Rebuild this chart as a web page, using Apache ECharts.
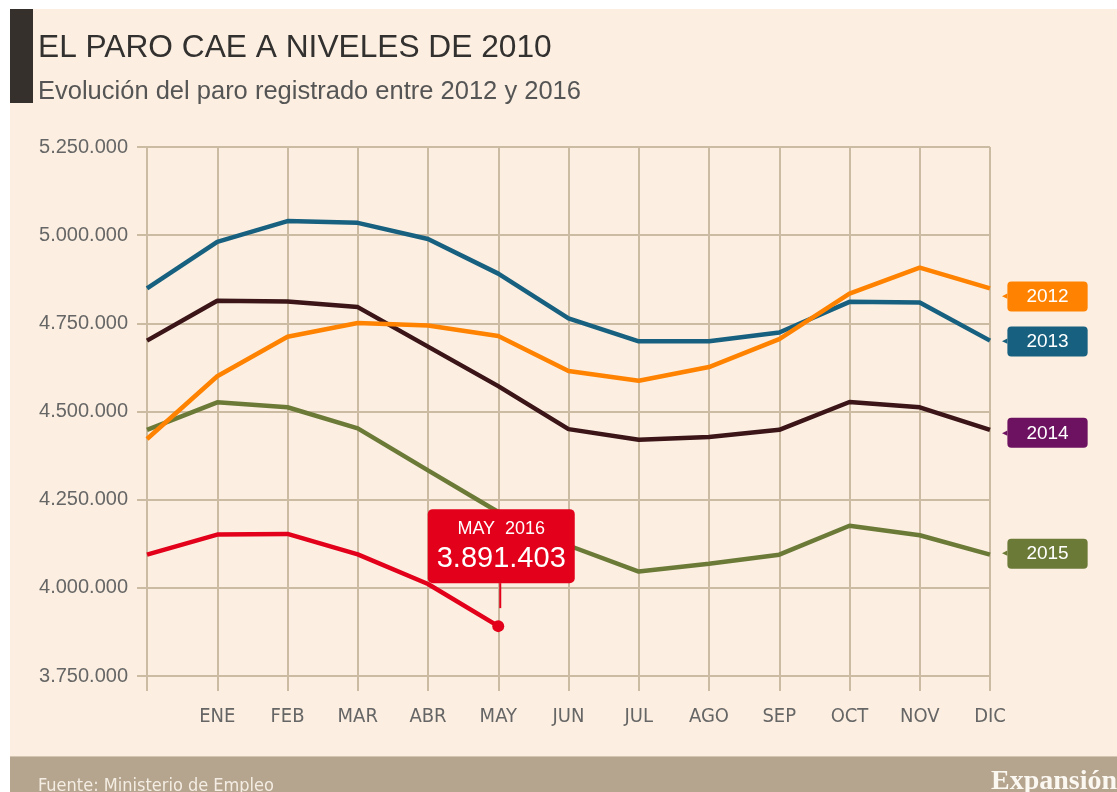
<!DOCTYPE html>
<html>
<head>
<meta charset="utf-8">
<script src="https://cdn.jsdelivr.net/npm/echarts@6/dist/echarts.min.js"></script>
<style>
  html, body { margin: 0; padding: 0; background: #fff; }
  #chart { width: 1117px; height: 792px; }
</style>
</head>
<body>
<div id="chart"></div>
<script>
// 数据：每年 12 月（上一年）到 12 月的登记失业人数
const months = ['', 'ENE', 'FEB', 'MAR', 'ABR', 'MAY', 'JUN', 'JUL', 'AGO', 'SEP', 'OCT', 'NOV', 'DIC'];
const paro2012 = [4422000, 4600000, 4712000, 4751000, 4744000, 4714000, 4615000, 4587000, 4626000, 4705000, 4834000, 4908000, 4849000];
const paro2013 = [4849000, 4981000, 5040000, 5035000, 4989000, 4891000, 4764000, 4699000, 4699000, 4724000, 4811000, 4809000, 4701000];
const paro2014 = [4701000, 4814000, 4812000, 4796000, 4684000, 4572000, 4450000, 4420000, 4428000, 4448000, 4527000, 4512000, 4448000];
const paro2015 = [4448000, 4526000, 4512000, 4452000, 4333000, 4215000, 4120000, 4046000, 4068000, 4094000, 4176000, 4149000, 4094000];
const paro2016 = [4094000, 4151000, 4153000, 4095000, 4011000, 3891403];
const yTicks = { min: 3750000, max: 5250000, step: 250000 };

const narrow = "'Liberation Sans Narrow', 'DejaVu Sans Condensed', 'Liberation Sans', sans-serif";
const sans = "'Liberation Sans', Arial, sans-serif";
const gridColor = '#cbbba3';

// 千位分隔用点号
function formatNum(v) {
    return String(Math.round(v)).replace(/\B(?=(\d{3})+(?!\d))/g, '.');
}

function yearLine(name, data, color, tagColor, dy) {
    return {
        name: name,
        type: 'line',
        data: data,
        symbol: 'none',
        lineStyle: { color: color, width: 4.5 },
        itemStyle: { color: color },
        endLabel: {
            show: true,
            distance: 12,
            offset: [0, dy],
            formatter: '{n|◀}{t|' + name + '}',
            rich: {
                n: { color: tagColor, fontSize: 7, fontFamily: 'DejaVu Sans' },
                t: {
                    backgroundColor: tagColor, color: '#fff', borderRadius: 4,
                    fontFamily: sans, fontSize: 19, padding: [6, 19, 5, 19]
                }
            }
        }
    };
}

const chart = echarts.init(document.getElementById('chart'));

const option = {
    backgroundColor: '#fcefe1',
    animation: false,
    grid: { left: 147, right: 127, top: 147, bottom: 116 },
    xAxis: {
        type: 'category',
        data: months,
        boundaryGap: false,
        axisLine: { show: true, lineStyle: { color: gridColor, width: 2 } },
        axisTick: { show: true, length: 15, lineStyle: { color: gridColor, width: 2 } },
        splitLine: { show: true, lineStyle: { color: gridColor, width: 2 } },
        axisLabel: { color: '#666', fontFamily: narrow, fontSize: 20, margin: 31 }
    },
    yAxis: {
        type: 'value',
        min: yTicks.min,
        max: yTicks.max,
        interval: yTicks.step,
        axisLine: { show: false },
        axisTick: { show: true, length: 10, lineStyle: { color: gridColor, width: 2 } },
        splitLine: { show: true, lineStyle: { color: gridColor, width: 2 } },
        axisLabel: { color: '#666', fontFamily: sans, fontSize: 20, margin: 19, formatter: formatNum }
    },
    series: [
        yearLine('2015', paro2015, '#6c7a38', '#6c7a38', -1),
        yearLine('2014', paro2014, '#3b1518', '#6d1261', 3),
        yearLine('2013', paro2013, '#17607f', '#17607f', 1),
        yearLine('2012', paro2012, '#ff8200', '#ff8200', 8),
        {
            name: '2016',
            type: 'line',
            symbol: 'none',
            lineStyle: { color: '#e2001a', width: 4.5 },
            itemStyle: { color: '#e2001a' },
            z: 5,
            data: paro2016.map((v, i) => {
                if (i !== paro2016.length - 1) return v;
                return {
                    value: v,
                    symbol: 'circle',
                    symbolSize: 12,
                    label: {
                        show: true,
                        position: 'top',
                        distance: 35,
                        offset: [3, -2],
                        backgroundColor: '#e2001a',
                        borderRadius: 5,
                        padding: [7, 9, 7, 9],
                        formatter: '{a|MAY  2016}\n{b|' + formatNum(v) + '}',
                        rich: {
                            a: { color: '#fff', fontFamily: sans, fontSize: 18, lineHeight: 26, align: 'center' },
                            b: { color: '#fff', fontFamily: sans, fontSize: 29, lineHeight: 34, align: 'center' }
                        }
                    }
                };
            })
        }
    ],
    graphic: [
        { type: 'rect', left: 0, top: 0, shape: { width: 1117, height: 9 }, style: { fill: '#fff' } },
        { type: 'rect', left: 0, top: 0, shape: { width: 10, height: 792 }, style: { fill: '#fff' } },
        { type: 'rect', left: 10, top: 9, shape: { width: 23, height: 94 }, style: { fill: '#35302b' } },
        { type: 'rect', left: 10, top: 757, shape: { width: 1107, height: 35 }, style: { fill: '#b5a48e' } },
        { type: 'rect', left: 10, top: 756, shape: { width: 1107, height: 1 }, style: { fill: '#d3c5b2' } },
        {
            type: 'text', x: 38, y: 48,
            style: { text: 'EL PARO CAE A NIVELES DE 2010', font: '31.7px ' + sans, fill: '#333130', verticalAlign: 'middle' }
        },
        {
            type: 'text', x: 38, y: 92,
            style: { text: 'Evolución del paro registrado entre 2012 y 2016', font: '25.5px ' + sans, fill: '#555', verticalAlign: 'middle' }
        },
        {
            type: 'text', x: 38, y: 786,
            style: { text: 'Fuente: Ministerio de Empleo', font: '18px ' + narrow, fill: '#f4ede3', verticalAlign: 'middle' }
        },
        {
            type: 'text', x: 991, y: 782,
            style: { text: 'Expansión', font: 'bold 28px "Liberation Serif", serif', fill: '#fbf7f1', verticalAlign: 'middle' }
        }
    ]
};

chart.setOption(option);

// 标注框下方的指示线，位置由坐标轴换算
const last = paro2016.length - 1;
const p = chart.convertToPixel({ xAxisIndex: 0, yAxisIndex: 0 }, [months[last], paro2016[last]]);
chart.setOption({
    graphic: option.graphic.concat([{
        type: 'line',
        shape: { x1: p[0] + 2, y1: p[1] - 43, x2: p[0] + 2, y2: p[1] - 18 },
        style: { stroke: '#e2001a', lineWidth: 2 },
        z: 10
    }])
});
</script>
</body>
</html>
